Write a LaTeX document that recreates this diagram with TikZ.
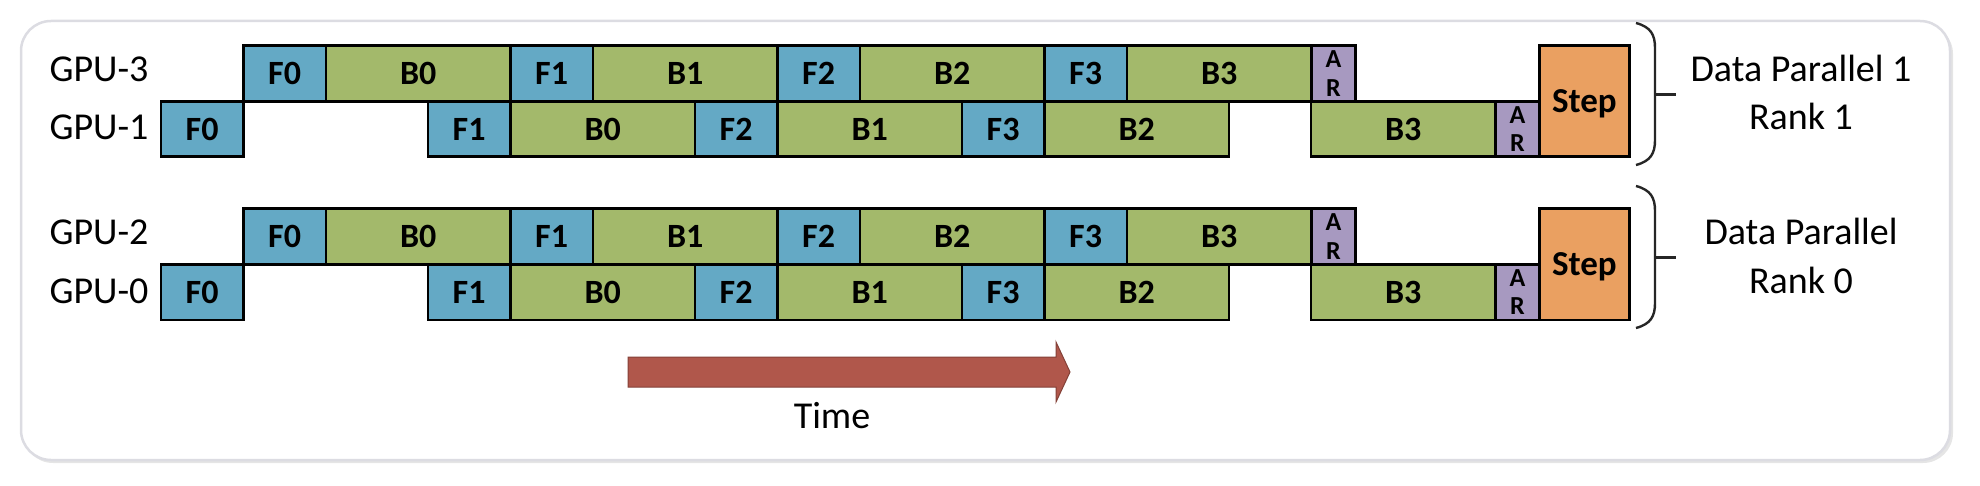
\documentclass[tikz,border=0pt]{standalone}
\usepackage{fontspec}
\setmainfont{Carlito}
\definecolor{fblue}{HTML}{64A9C5}
\definecolor{bgreen}{HTML}{A3B96B}
\definecolor{arpurple}{HTML}{A799C0}
\definecolor{steporange}{HTML}{EAA061}
\definecolor{timered}{HTML}{B0574B}
\definecolor{framegray}{HTML}{DCDCE2}
\begin{document}
\begin{tikzpicture}[x=1pt,y=-1pt,
  box/.style={draw=black, line width=2.8pt, anchor=north west, inner sep=0pt,
    minimum height=55.5pt},
  fbox/.style={box, fill=fblue, minimum width=82.5pt, text depth=0pt,
    font=\bfseries\fontsize{34}{40}\selectfont},
  bbox/.style={box, fill=bgreen, minimum width=184.5pt, text depth=0pt,
    font=\bfseries\fontsize{34}{40}\selectfont},
  arbox/.style={box, fill=arpurple, minimum width=44pt, align=center,
    font=\bfseries\fontsize{26}{28.5}\selectfont},
  stepbox/.style={box, fill=steporange, minimum width=90pt, minimum height=111pt,
    text depth=0pt, font=\bfseries\fontsize{35}{40}\selectfont},
  lbl/.style={anchor=base, inner sep=0pt, font=\fontsize{38}{45}\selectfont},
  bracket/.style={draw=black!85, line width=2.4pt}
]
\useasboundingbox (0,0) rectangle (1980,486);
% frame
\fill[black!10, rounded corners=30pt] (23,24) rectangle (1953,463);
\draw[framegray, fill=white, line width=2.5pt, rounded corners=30pt] (21,21) rectangle (1950,460);

\foreach \g/\dy/\ga/\gb/\dpa/\rk in {1/0/GPU-3/GPU-1/Data Parallel 1/Rank 1,
                                      0/163/GPU-2/GPU-0/Data Parallel/Rank 0}{
  % GPU labels
  \node[lbl] (gpuT\g) at (99,{82+\dy}) {\ga};
  \node[lbl] (gpuB\g) at (99,{140+\dy}) {\gb};
  % upper row
  \node[fbox] (f0t\g) at (242,{44.5+\dy}) {F0};
  \node[bbox] (b0t\g) at (324.5,{44.5+\dy}) {B0};
  \node[fbox] (f1t\g) at (509,{44.5+\dy}) {F1};
  \node[bbox] (b1t\g) at (591.5,{44.5+\dy}) {B1};
  \node[fbox] (f2t\g) at (776,{44.5+\dy}) {F2};
  \node[bbox] (b2t\g) at (858.5,{44.5+\dy}) {B2};
  \node[fbox] (f3t\g) at (1043,{44.5+\dy}) {F3};
  \node[bbox] (b3t\g) at (1125.5,{44.5+\dy}) {B3};
  \node[arbox] (art\g) at (1310,{44.5+\dy}) {A\\R};
  % lower row
  \node[fbox] (f0b\g) at (159.5,{100+\dy}) {F0};
  \node[fbox] (f1b\g) at (426.5,{100+\dy}) {F1};
  \node[bbox] (b0b\g) at (509,{100+\dy}) {B0};
  \node[fbox] (f2b\g) at (693.5,{100+\dy}) {F2};
  \node[bbox] (b1b\g) at (776,{100+\dy}) {B1};
  \node[fbox] (f3b\g) at (960.5,{100+\dy}) {F3};
  \node[bbox] (b2b\g) at (1043,{100+\dy}) {B2};
  \node[bbox] (b3b\g) at (1309.5,{100+\dy}) {B3};
  \node[arbox] (arb\g) at (1494,{100+\dy}) {A\\R};
  % step
  \node[stepbox] (step\g) at (1538,{44.5+\dy}) {Step};
  % bracket
  \draw[bracket] (1636,{23+\dy}) .. controls (1651,{27+\dy}) and (1655,{35+\dy}) .. (1655,{48+\dy})
     -- (1655,{140+\dy}) .. controls (1655,{153+\dy}) and (1651,{161+\dy}) .. (1636,{165+\dy});
  \draw[bracket] (1655,{94.5+\dy}) -- (1676,{94.5+\dy});
  % group labels
  \node[lbl] (dp\g) at (1801,{82+\dy}) {\dpa};
  \node[lbl] (rk\g) at (1801,{130+\dy}) {\rk};
}

% time arrow
\draw[fill=timered, draw=timered!75!black, line width=1pt]
  (628,357) -- (1056,357) -- (1056,342) -- (1070,372) -- (1056,402) -- (1056,387) -- (628,387) -- cycle;
\node[lbl] (time) at (832,428) {Time};
\end{tikzpicture}
\end{document}
